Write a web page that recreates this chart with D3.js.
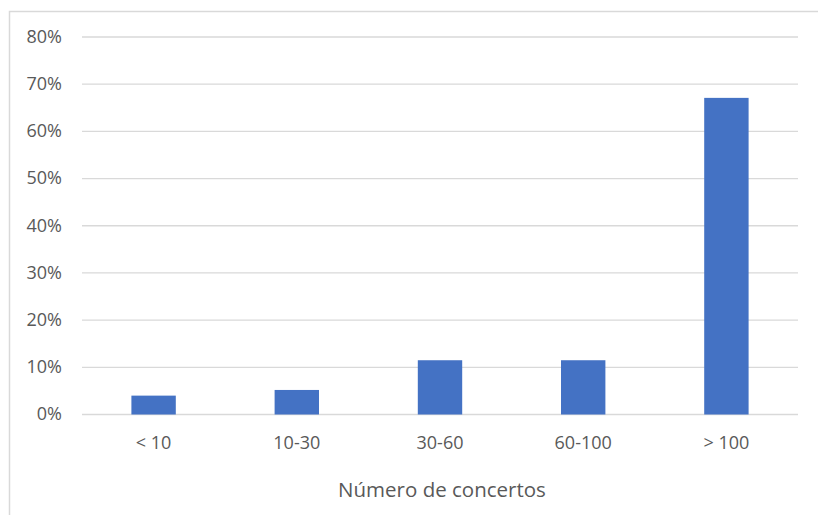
<!DOCTYPE html>
<html><head><meta charset="utf-8">
<script src="https://cdn.jsdelivr.net/npm/d3@7"></script>
<style>body{margin:0;background:#fff}svg{display:block}text{font-family:"Open Sans",sans-serif;fill:#595959}</style>
</head><body>
<svg id="c" width="818" height="515"></svg>
<script>
const categories = ["< 10", "10-30", "30-60", "60-100", "> 100"];
const values = [0.04, 0.052, 0.115, 0.115, 0.671];
const yTicks = [0, 0.1, 0.2, 0.3, 0.4, 0.5, 0.6, 0.7, 0.8];
const xTitle = "Número de concertos";

const svg = d3.select("#c");
const m = {left: 82, right: 20, top: 37, bottom: 100.5};
const W = 818, H = 515;
const x = d3.scaleBand().domain(categories).range([m.left, W - m.right]).paddingInner(0.69).paddingOuter(0.345);
const y = d3.scaleLinear().domain([0, 0.8]).range([414.5, 37]);

// chart border (top & left)
svg.append("path").attr("d", "M9.5,515 V11.5 H818").attr("fill", "none").attr("stroke", "#d9d9d9").attr("stroke-width", 1.5);

// gridlines
svg.append("g").selectAll("line").data(yTicks).join("line")
  .attr("x1", m.left).attr("x2", W - m.right)
  .attr("y1", d => y(d)).attr("y2", d => y(d))
  .attr("stroke", "#d9d9d9").attr("stroke-width", 1.3);

// y labels
const yAxis = d3.axisLeft(y).tickValues(yTicks).tickFormat(d3.format(".0%")).tickSize(0).tickPadding(0);
const ga = svg.append("g").attr("transform", "translate(62,0)").call(yAxis);
ga.select(".domain").remove();
ga.selectAll("text").attr("font-size", 18).attr("font-family", '"Open Sans",sans-serif').attr("fill", "#595959").attr("dy", "0.3em");

// bars
svg.append("g").selectAll("rect").data(values).join("rect")
  .attr("x", (d, i) => x(categories[i]))
  .attr("width", x.bandwidth())
  .attr("y", d => y(d))
  .attr("height", d => y(0) - y(d))
  .attr("fill", "#4472c4");

// x labels
const xAxis = d3.axisBottom(x).tickSize(0).tickPadding(0);
const gx = svg.append("g").attr("transform", "translate(0,449)").call(xAxis);
gx.select(".domain").remove();
gx.selectAll("text").attr("font-size", 18).attr("font-family", '"Open Sans",sans-serif').attr("fill", "#595959").attr("dy", "0");

// x title
svg.append("text").attr("x", 442).attr("y", 496.5).attr("text-anchor", "middle")
  .attr("font-size", 20.5).text(xTitle);
</script>
</body></html>
